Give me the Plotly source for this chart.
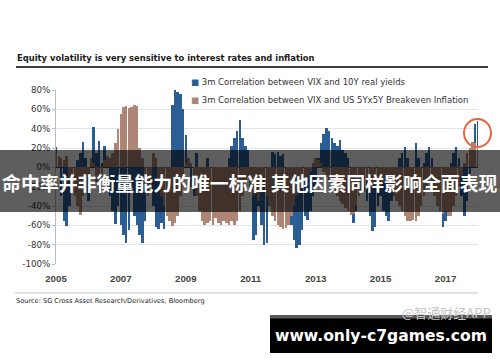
import pandas as pd
import plotly.graph_objects as go

W, H = 500, 362

title = "Equity volatility is very sensitive to interest rates and inflation"
source = "Source: SG Cross Asset Research/Derivatives, Bloomberg"
name_real = "3m Correlation between VIX and 10Y real yields"
name_bei = "3m Correlation between VIX and US 5Yx5Y Breakeven Inflation"
banner = "命中率并非衡量能力的唯一标准 其他因素同样影响全面表现"
watermark = "@智通财经APP"
site = "www.only-c7games.com"

start_month = "2005-01-01"
tick_years = ["2005", "2007", "2009", "2011", "2013", "2015", "2017"]
y_ticks = [-100, -80, -60, -40, -20, 0, 20, 40, 60, 80]
y_labels = ["-100%", "-80%", "-60%", "-40%", "-20%", "0%", "20%", "40%", "60%", "80%"]

# monthly 3m correlation (%), Jan 2005 .. Jan 2018
real_yields = [
    21, 12, -30, -55, -61, -40, -20, -10, 8, 15, 26, 10,
    -35, 10, 42, 15, 27, 5, 22, 12, -30, -45, -59, -40,
    -60, -70, -78, -65, -20, -50, -60, -70, -78, -55, -30, -10,
    -40, -62, -64, -58, -64, -30, -10, 65, 80, 78, 76, 60,
    33, 10, -20, -30, 15, -25, -35, -20, 10, -40, -30, -45,
    -40, -58, -30, -10, 10, 22, 30, 38, 49, 30, 22, 18,
    -20, -75, -70, -40, -60, -80, -78, -30, 16, 14, 16, 12,
    14, -10, -40, -60, -75, -83, -80, -65, -50, -54, -45, -30,
    -20, 10, 25, 35, 41, 38, 30, 25, 22, 28, 18, 15,
    10, -30, -58, -45, -20, -10, -25, -35, -50, -66, -62, -40,
    -30, -45, -50, -55, -35, -20, -10, 10, 15, 21, 10, -15,
    -10, 25, 10, -20, 5, 15, 21, 10, -20, -35, -45, -62,
    -55, -30, 5, 15, 21, 10, -30, -50, -35, -10, 10, 45, 48,
]
breakeven = [
    15, 12, 10, 8, 12, -10, -20, -30, -40, -49, -30, -10,
    -10, 10, 5, -15, -25, -10, 8, 12, 10, 15, 25, 40,
    55, 62, 63, 61, 62, 64, 63, 20, 10, -20, -30, -20,
    15, 10, -15, -30, -40, -50, -55, -61, -58, -50, -30, -10,
    5, 10, 5, -15, -30, -45, -55, -60, -58, -55, -60, -52,
    -58, -60, -55, -58, -60, -56, -60, -55, -45, -30, -15, -10,
    -20, -30, -25, -35, -20, -10, -30, -40, -50, -55, -60, -62,
    -64, -63, -60, -50, -40, -30, -25, -20, -15, -10, -5, 5,
    10, 8, 5, -5, -10, -15, -20, -25, -30, -35, -38, -42,
    -45, -49, -48, -40, -30, -25, -20, -15, -10, -15, -20, -25,
    -20, -15, -10, -20, -25, -30, -35, -40, -45, -50, -55, -55,
    -54, -55, -50, -40, -30, -20, -15, -20, -30, -40, -45, -48,
    -45, -50, -50, -40, -30, -20, -10, 5, 15, 20, 26, 25, 22,
]

BLUE = "#2c5e96"
BROWN = "#ae8575"
FONT = "DejaVu Sans, sans-serif"
FONT_ARIAL = "Arial, Liberation Sans, sans-serif"

dates = pd.date_range(start_month, periods=len(real_yields), freq="MS")


def X(px):
    return px / W


def Y(py):
    return 1 - py / H


fig = go.Figure()
fig.add_trace(go.Bar(x=dates, y=real_yields, name=name_real, marker_color=BLUE,
                     marker_line_width=0, showlegend=False))
fig.add_trace(go.Bar(x=dates, y=breakeven, name=name_bei, marker_color=BROWN,
                     marker_line_width=0, showlegend=False))

fig.update_layout(
    width=W, height=H,
    margin=dict(l=0, r=0, t=0, b=0),
    paper_bgcolor="white", plot_bgcolor="white",
    barmode="overlay", bargap=0,
    font=dict(family=FONT, color="#333"),
    xaxis=dict(
        domain=[X(56), X(478)],
        range=["2005-01-01", "2018-01-01"],
        type="date",
        tickmode="array",
        tickvals=[f"{y}-01-01" for y in tick_years],
        ticktext=tick_years,
        ticks="outside", ticklen=5, tickcolor="rgba(0,0,0,0)",
        tickfont=dict(size=9.7, color="#444", family=FONT_ARIAL, weight="bold"),
        showgrid=False, showline=False, zeroline=False,
        automargin=False,
    ),
    yaxis=dict(
        domain=[Y(264), Y(90)],
        range=[-100, 80],
        tickmode="array",
        tickvals=y_ticks,
        ticktext=y_labels,
        tickfont=dict(size=8.7, color="#333", family=FONT),
        showgrid=True, gridcolor="#e4e4e4", gridwidth=1,
        showline=True, linecolor="#bdbdbd", linewidth=1,
        ticks="outside", ticklen=3, tickcolor="#bdbdbd",
        zeroline=True, zerolinecolor="#444", zerolinewidth=1,
        automargin=False,
    ),
)

shapes = [
    # title underline
    dict(type="line", xref="paper", yref="paper", x0=X(16), x1=X(488), y0=Y(67), y1=Y(67),
         line=dict(color="black", width=1.6)),
    # source separator
    dict(type="line", xref="paper", yref="paper", x0=X(15), x1=X(478), y0=Y(293), y1=Y(293),
         line=dict(color="#c4c4c4", width=1)),
    # highlight circle
    dict(type="circle", xref="paper", yref="paper", x0=X(464), x1=X(491), y0=Y(147), y1=Y(119),
         line=dict(color="#e3663f", width=2), layer="above"),
    # banner overlay
    dict(type="rect", xref="paper", yref="paper", x0=0, x1=1, y0=Y(212), y1=Y(150),
         fillcolor="rgba(0,0,0,0.63)", line=dict(width=0), layer="above"),
    # black site box
    dict(type="rect", xref="paper", yref="paper", x0=X(270), x1=X(492), y0=Y(353), y1=Y(315),
         fillcolor="black", line=dict(width=0), layer="above"),
    dict(type="rect", xref="paper", yref="paper", x0=X(270), x1=X(492), y0=Y(318.5), y1=Y(315),
         fillcolor="#585858", line=dict(width=0), layer="above"),
]
fig.update_layout(shapes=shapes)

ann = [
    dict(text=f"<b>{title}</b>", x=X(15), y=Y(58), xanchor="left", yanchor="middle",
         font=dict(size=8.4, color="#1a1a1a", family=FONT)),
    dict(text=f'<span style="color:{BLUE}">■</span> {name_real}', x=X(189), y=Y(82),
         xanchor="left", yanchor="middle", font=dict(size=8.5, color="#333", family=FONT)),
    dict(text=f'<span style="color:{BROWN}">■</span> {name_bei}', x=X(189), y=Y(100),
         xanchor="left", yanchor="middle", font=dict(size=8.5, color="#333", family=FONT)),
    dict(text=source, x=X(14), y=Y(300.5), xanchor="left", yanchor="middle",
         font=dict(size=6.6, color="#222", family=FONT)),
    dict(text=watermark, x=X(493), y=Y(312), xanchor="right", yanchor="middle",
         font=dict(size=13, color="#c4c4c4", family="Noto Sans CJK SC, sans-serif")),
    dict(text=f"<b>{banner}</b>", x=X(250), y=Y(182), xanchor="center", yanchor="middle",
         font=dict(size=18.9, color="white", family="Noto Sans CJK SC, sans-serif")),
    dict(text=f"<b>{site}</b>", x=X(381), y=Y(336), xanchor="center", yanchor="middle",
         font=dict(size=15.6, color="white", family="DejaVu Sans, sans-serif")),
]
for a in ann:
    a.update(xref="paper", yref="paper", showarrow=False)
fig.update_layout(annotations=ann)

fig.write_html("out.html", config={"displayModeBar": False},
               post_script="document.body.style.margin='0';")
